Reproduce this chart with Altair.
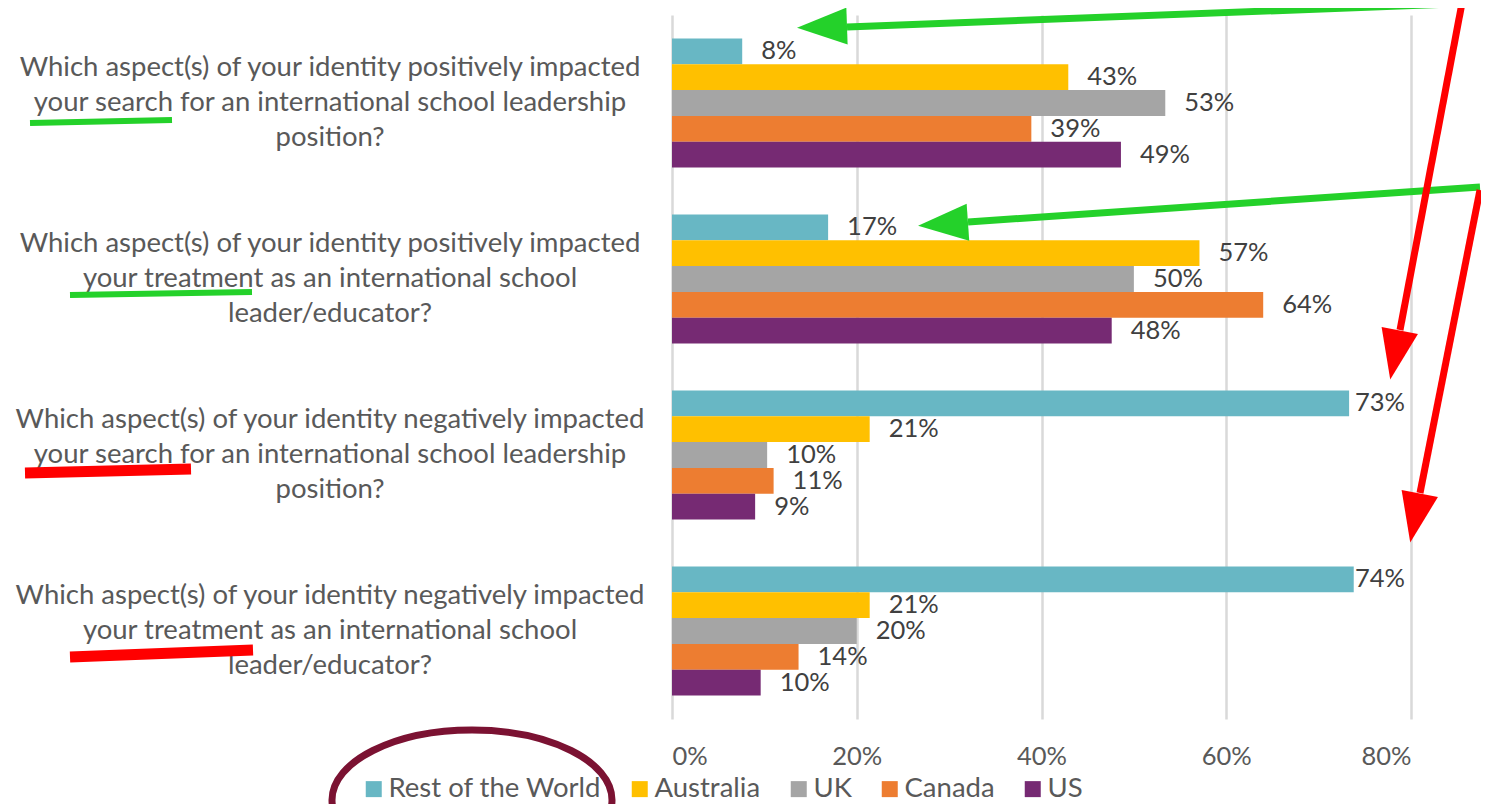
import altair as alt
import pandas as pd

# ---------------- data ----------------
categories = [
    "Which aspect(s) of your identity positively impacted\nyour search for an international school leadership\nposition?",
    "Which aspect(s) of your identity positively impacted\nyour treatment as an international school\nleader/educator?",
    "Which aspect(s) of your identity negatively impacted\nyour search for an international school leadership\nposition?",
    "Which aspect(s) of your identity negatively impacted\nyour treatment as an international school\nleader/educator?",
]
series = ["Rest of the World", "Australia", "UK", "Canada", "US"]
colors = ["#68B7C4", "#FFC000", "#A5A5A5", "#ED7D31", "#762A73"]

rest_of_world = [0.076, 0.169, 0.733, 0.738]
australia = [0.429, 0.571, 0.214, 0.214]
uk = [0.534, 0.500, 0.103, 0.200]
canada = [0.389, 0.640, 0.110, 0.137]
us = [0.486, 0.476, 0.090, 0.096]

x_ticks = [0, 0.2, 0.4, 0.6, 0.8]

# annotation overlays (pixel positions inside the plot area)
ann_lines = [  # x1, y1, x2, y2, color, width
    (780, -11, 175, 12, "#24D12A", 7),
    (808, 172, 296, 207, "#24D12A", 7),
    (790, -12, 728, 315, "#FF0000", 7),
    (808, 175, 748, 478, "#FF0000", 7),
    (-642, 108, -500, 105, "#24D12A", 6),
    (-602, 280, -420, 277, "#24D12A", 6),
    (-647, 458, -481, 454, "#FF0000", 11),
    (-602, 642, -419, 635, "#FF0000", 11),
]
ann_heads = [  # x, y, angle, color
    (150, 12, 268, "#24D12A"),
    (271, 209, 266, "#24D12A"),
    (723, 340, 191, "#FF0000"),
    (743, 503, 191, "#FF0000"),
]
ellipse = (-200, 785, 280, "#7B1232")

# ---------------- table ----------------
rows = []
for name, vals in zip(series, [rest_of_world, australia, uk, canada, us]):
    for cat, v in zip(categories, vals):
        rows.append({"cat": cat, "series": name, "value": v})
df = pd.DataFrame(rows)
cat_df = pd.DataFrame({"cat": categories})

FONT = "Lato"
TXT = "#595959"

y_enc = alt.Y("cat:N", sort=categories, axis=None,
              scale=alt.Scale(paddingInner=0.267, paddingOuter=0.1335))
yoff_enc = alt.YOffset("series:N", sort=series,
                       scale=alt.Scale(paddingInner=0, paddingOuter=0))

bars = alt.Chart(df).mark_bar().encode(
    y=y_enc,
    yOffset=yoff_enc,
    x=alt.X("value:Q", title=None,
            scale=alt.Scale(domain=[0, 0.8], nice=False),
            axis=alt.Axis(format=".0%", values=x_ticks, grid=True,
                          gridColor="#D9D9D9", gridWidth=2.5,
                          domain=False, ticks=False, labelPadding=25,
                          labelFontSize=25.5, labelFont=FONT,
                          labelColor=TXT)),
    color=alt.Color("series:N", sort=series,
                    scale=alt.Scale(domain=series, range=colors),
                    legend=alt.Legend(title=None, orient="none",
                                      direction="horizontal",
                                      legendX=-312, legendY=760,
                                      symbolType="square", symbolSize=256,
                                      symbolStrokeWidth=0,
                                      labelFontSize=27.5, labelFont=FONT,
                                      labelColor=TXT, labelOffset=1,
                                      columnPadding=24, padding=0,
                                      labelLimit=400)),
)

labels = alt.Chart(df).transform_calculate(
    labx="min(datum.value, 0.7188)"
).mark_text(align="left", baseline="middle", dx=19, fontSize=25.5,
            font=FONT, color="#404040").encode(
    y=y_enc,
    yOffset=yoff_enc,
    x=alt.X("labx:Q"),
    text=alt.Text("value:Q", format=".0%"),
)

cat_text = alt.Chart(cat_df).mark_text(
    align="center", baseline="middle", lineBreak="\n", lineHeight=35,
    dy=-35, fontSize=27.5, font=FONT, color=TXT
).encode(
    y=y_enc,
    x=alt.value(-342),
    text="cat:N",
)

one = pd.DataFrame({"k": [0]})
ann_layers = []
for x1, y1, x2, y2, c, w in ann_lines:
    ann_layers.append(
        alt.Chart(one).mark_rule(color=c, strokeWidth=w).encode(
            x=alt.value(x1), y=alt.value(y1),
            x2=alt.value(x2), y2=alt.value(y2))
    )
HEAD = "M 0 -1 L 0.74 1 L -0.74 1 Z"
for hx, hy, ang, c in ann_heads:
    ann_layers.append(
        alt.Chart(one).mark_point(shape=HEAD, filled=True, size=2500,
                                  angle=ang, color=c, opacity=1,
                                  strokeWidth=0).encode(
            x=alt.value(hx), y=alt.value(hy))
    )
ELL = ("M 1 0 C 1 0.2761 0.5523 0.5 0 0.5 C -0.5523 0.5 -1 0.2761 -1 0 "
       "C -1 -0.2761 -0.5523 -0.5 0 -0.5 C 0.5523 -0.5 1 -0.2761 1 0 Z")
ex, ey, ew, ec = ellipse
ann_layers.append(
    alt.Chart(one).mark_point(shape=ELL, filled=False, size=ew * ew,
                              color=ec, strokeWidth=7, opacity=1).encode(
        x=alt.value(ex), y=alt.value(ey))
)

chart = alt.layer(bars, labels, cat_text, *ann_layers).properties(
    width=739, height=704,
    padding={"left": 664, "top": 7, "right": 70, "bottom": 85},
    autosize=alt.AutoSizeParams(type="none"),
).configure_view(stroke=None)

chart.save("out.html", embed_options={"renderer": "svg", "actions": False})
